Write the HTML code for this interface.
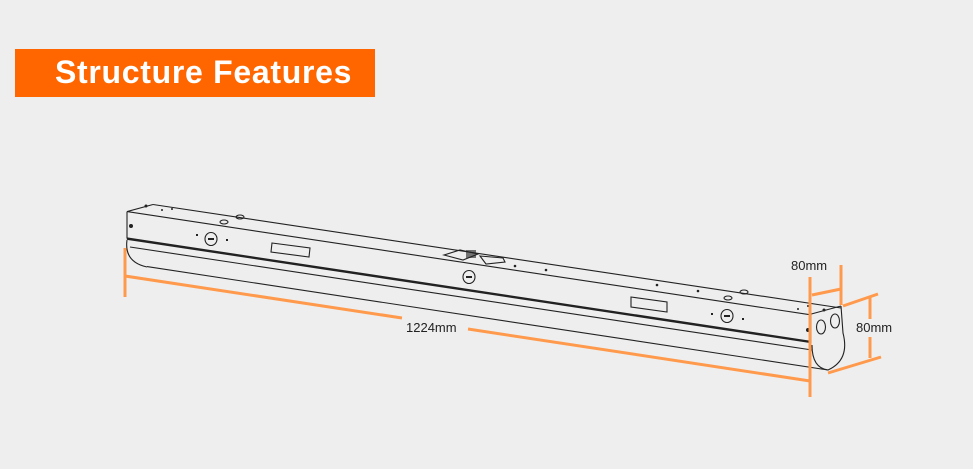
<!DOCTYPE html>
<html><head><meta charset="utf-8"><style>
html,body{margin:0;padding:0;background:#eeeeee;width:973px;height:469px;overflow:hidden}
</style></head><body>
<svg width="973" height="469" viewBox="0 0 973 469" xmlns="http://www.w3.org/2000/svg">
<rect width="973" height="469" fill="#eeeeee"/>
<rect x="15" y="49" width="360" height="48" fill="#ff6600"/>
<text x="55" y="83" font-family="Liberation Sans, sans-serif" font-weight="bold" font-size="32" fill="#fff" letter-spacing="0.7">Structure Features</text>

<g fill="none" stroke="#222" stroke-width="1.1">
<line x1="153" y1="204.5" x2="841" y2="308"/>
<line x1="127" y1="211.6" x2="809" y2="314.6"/>
<line x1="127" y1="211.6" x2="153" y2="204.5"/>
<line x1="127" y1="211.6" x2="127" y2="238.6"/>
<line x1="127" y1="238.6" x2="811" y2="342" stroke-width="2.4"/>
<line x1="811" y1="314.6" x2="811" y2="343"/>
<line x1="809" y1="314.6" x2="841" y2="306"/>
<line x1="130" y1="247" x2="812" y2="350"/>
<line x1="147" y1="266.6" x2="828" y2="370"/>
<path d="M127 240 Q124 262 147 267"/>
<path d="M841 306 L843 333 Q850 360 828 370 Q812 368 812 345"/>
<ellipse cx="821" cy="327" rx="4.5" ry="7"/>
<ellipse cx="835" cy="321" rx="4.5" ry="7"/>
<ellipse cx="211" cy="239" rx="6" ry="6.5"/>
<ellipse cx="469" cy="277" rx="6" ry="6.5"/>
<ellipse cx="727" cy="316" rx="6" ry="6.5"/>
<polygon points="272,243 310,248 309,257 271,252"/>
<polygon points="631,297 667,302 667,312 631,307"/>
<ellipse cx="224" cy="222" rx="4" ry="2"/>
<ellipse cx="240" cy="217" rx="4" ry="2"/>
<ellipse cx="728" cy="298" rx="4" ry="2"/>
<ellipse cx="744" cy="292" rx="4" ry="2"/>
<polygon points="444,255 460,250 478,254 463,260"/>
<polygon points="480,256 503,258 505,262 486,264"/>
</g>
<g fill="#222">
<circle cx="146" cy="206" r="1.5"/><circle cx="131" cy="226" r="2"/>
<circle cx="162" cy="210" r="1"/><circle cx="172" cy="209" r="1"/>
<rect x="196" y="234" width="2" height="2"/><rect x="226" y="239" width="2" height="2"/>
<rect x="711" y="313" width="2" height="2"/><rect x="742" y="318" width="2" height="2"/>
<circle cx="515" cy="266" r="1.3"/><circle cx="546" cy="270" r="1.3"/>
<circle cx="657" cy="285" r="1.3"/><circle cx="698" cy="291" r="1.3"/>
<circle cx="798" cy="309" r="1"/><circle cx="808" cy="306" r="1"/>
<circle cx="824" cy="310" r="1.5"/><circle cx="808" cy="330" r="2"/>
<rect x="466" y="276" width="6" height="2"/><rect x="208" y="238" width="6" height="2"/><rect x="724" y="315" width="6" height="2"/>
<rect x="466" y="250" width="10" height="8" opacity="0.6"/>
</g>

<g stroke="#ff9a4d" stroke-width="3" fill="none">
<line x1="125" y1="248" x2="125" y2="297"/>
<line x1="125" y1="276" x2="402" y2="318"/>
<line x1="468" y1="329" x2="810" y2="381"/>
<line x1="810" y1="277" x2="810" y2="397"/>
<line x1="841" y1="265" x2="841" y2="305"/>
<line x1="812" y1="295" x2="841" y2="289"/>
<line x1="843" y1="306" x2="878" y2="294"/>
<line x1="870" y1="297" x2="870" y2="319"/>
<line x1="870" y1="337" x2="870" y2="358"/>
<line x1="828" y1="373" x2="881" y2="357"/>
</g>
<g font-family="Liberation Sans, sans-serif" font-size="13" fill="#222">
<text x="406" y="332">1224mm</text>
<text x="791" y="270">80mm</text>
<text x="856" y="332">80mm</text>
</g>
</svg>
</body></html>
